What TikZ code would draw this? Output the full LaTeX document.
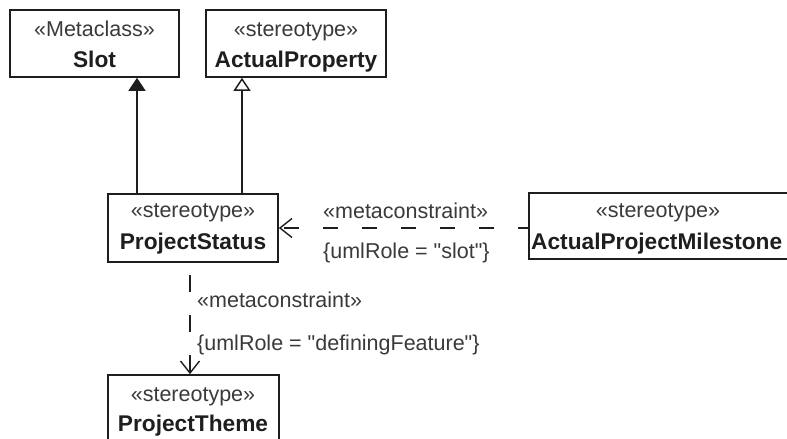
\documentclass[tikz,border=0pt]{standalone}
\usepackage{fontspec}
\setmainfont{Liberation Sans}[Ligatures=TeXOff]
\usetikzlibrary{arrows.meta}
\definecolor{txt}{HTML}{3A3A3A}
\definecolor{bold}{HTML}{1E1E1E}
\begin{document}
\begin{tikzpicture}[x=1pt,y=-1pt,
  umlbox/.style={draw=bold, line width=1.7pt, inner sep=0pt},
  stereo/.style={anchor=base, inner sep=0pt, text=txt, font=\fontsize{21.5}{24}\selectfont},
  cname/.style={anchor=base, inner sep=0pt, text=bold, font=\fontsize{22.7}{26}\selectfont\bfseries},
  lbl/.style={anchor=base west, inner sep=0pt, text=txt, font=\fontsize{21.5}{24}\selectfont},
  conn/.style={draw=bold, line width=1.4pt},
  hdash/.style={conn, dash pattern=on 15pt off 24pt, dash phase=4pt},
  vdash/.style={conn, dash pattern=on 17pt off 23pt, dash phase=27pt},
]
\path[fill=white] (0,0) rectangle (787,439);
\useasboundingbox (0,0) rectangle (787,439);

% boxes
\node[umlbox, minimum width=169pt, minimum height=67pt] (slot) at (94.5,43.5) {};
\node[umlbox, minimum width=180pt, minimum height=67pt] (ap) at (296,43.5) {};
\node[umlbox, minimum width=170pt, minimum height=68pt] (ps) at (193,228) {};
\node[umlbox, minimum width=262pt, minimum height=66pt] (apm) at (660,226) {};
\node[umlbox, minimum width=171pt, minimum height=70pt] (pt) at (193.5,410) {};

% texts
\node[stereo] (slot-s) at (94.5,36) {«Metaclass»};
\node[cname] (slot-n) at (94.5,67) {Slot};
\node[stereo] (ap-s) at (296,36) {«stereotype»};
\node[cname] (ap-n) at (296,67) {ActualProperty};
\node[stereo] (ps-s) at (193,217) {«stereotype»};
\node[cname] (ps-n) at (193,249) {ProjectStatus};
\node[stereo] (apm-s) at (658,217) {«stereotype»};
\node[cname, anchor=base west] (apm-n) at (531,249) {ActualProjectMilestone};
\node[stereo] (pt-s) at (193,401) {«stereotype»};
\node[cname] (pt-n) at (193,431) {ProjectTheme};

% generalizations
\coordinate (g1) at (137,194);
\coordinate (g2) at (242,194);
\draw[conn, -{Triangle[width=17pt,length=13pt]}] (g1) -- (g1 |- slot.south);
\draw[conn, -{Triangle[open,width=17pt,length=13pt,fill=white]}] (g2) -- (g2 |- ap.south);

% metaconstraints
\coordinate (h1) at (529,228);
\draw[hdash, -{Straight Barb[width=19pt,length=12pt]}] (h1) -- (h1 -| ps.east);
\coordinate (v1) at (190,262);
\draw[vdash, -{Straight Barb[width=19pt,length=12pt]}] (v1) -- (v1 |- pt.north);

\node[lbl] (h-s) at (323,218) {«metaconstraint»};
\node[lbl] (h-c) at (323,258) {\{umlRole = "slot"\}};
\node[lbl] (v-s) at (197,307) {«metaconstraint»};
\node[lbl] (v-c) at (197,350) {\{umlRole = "definingFeature"\}};
\end{tikzpicture}
\end{document}
